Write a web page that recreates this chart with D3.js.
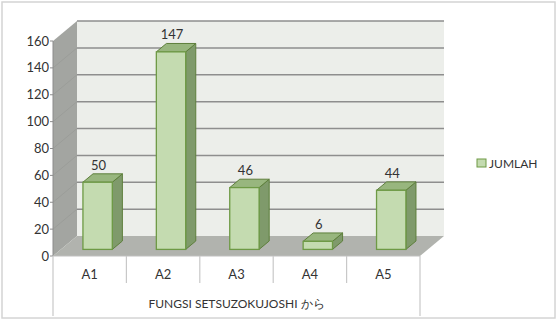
<!DOCTYPE html>
<html>
<head>
<meta charset="utf-8">
<script src="https://cdn.jsdelivr.net/npm/d3@7"></script>
<style>
  body { margin: 0; background: #fff; }
  svg text { font-family: Lato, "Open Sans", sans-serif; }
</style>
</head>
<body>
<div id="chart"></div>
<script>
(function (d3) {
	'use strict';

	// DATA
	const categories = ["A1", "A2", "A3", "A4", "A5"];
	const values = [50, 147, 46, 6, 44];
	const yTicks = [0, 20, 40, 60, 80, 100, 120, 140, 160];
	const seriesName = "JUMLAH";
	const axisTitle = "FUNGSI SETSUZOKUJOSHI から";

	const width = 558, height = 321;
	const svg = d3.select("#chart").append("svg")
		.attr("width", width).attr("height", height);

	// 3D depth offset of the plot box
	const depth = { dx: 24, dy: -20 };
	const barDepth = [0.33, 0.75];

	const x = d3.scaleBand().domain(categories).range([53, 420]);
	const y = d3.scaleLinear().domain([0, 160]).range([256, 41]);

	// frame
	svg.append("rect")
		.attr("x", 2).attr("y", 2).attr("width", 553).attr("height", 316)
		.attr("fill", "#fff").attr("stroke", "#d4d4d4").attr("stroke-width", 1.5);

	const x0 = x.range()[0], x1 = x.range()[1];
	const yb = y(0), yt = y(160);

	// side wall
	svg.append("path")
		.attr("d", `M${x0},${yb}L${x0},${yt}L${x0 + depth.dx},${yt + depth.dy}L${x0 + depth.dx},${yb + depth.dy}Z`)
		.attr("fill", "#a3a5a1");
	// back wall
	svg.append("rect")
		.attr("x", x0 + depth.dx).attr("y", yt + depth.dy)
		.attr("width", x1 - x0).attr("height", yb - yt)
		.attr("fill", "#eceeea");
	// floor
	svg.append("path")
		.attr("d", `M${x0},${yb}L${x0 + depth.dx},${yb + depth.dy}L${x1 + depth.dx},${yb + depth.dy}L${x1},${yb}Z`)
		.attr("fill", "#b1b3ae");

	// gridlines on back wall + side wall
	const grid = svg.append("g");
	grid.selectAll(".back").data(yTicks.filter(d => d > 0)).enter().append("line")
		.attr("x1", x0 + depth.dx).attr("x2", x1 + depth.dx)
		.attr("y1", d => y(d) + depth.dy).attr("y2", d => y(d) + depth.dy)
		.attr("stroke", "#8e8e8e").attr("stroke-width", 1.5);
	grid.selectAll(".side").data(yTicks.filter(d => d > 0 && d < 160)).enter().append("line")
		.attr("x1", x0).attr("x2", x0 + depth.dx)
		.attr("y1", d => y(d)).attr("y2", d => y(d) + depth.dy)
		.attr("stroke", "#9b9d99").attr("stroke-width", 1);

	// y axis
	svg.append("line")
		.attr("x1", x0).attr("x2", x0).attr("y1", yt).attr("y2", yb)
		.attr("stroke", "#8c8c8c");
	const yAxisG = svg.append("g");
	yAxisG.selectAll("line").data(yTicks).enter().append("line")
		.attr("x1", x0 - 3).attr("x2", x0)
		.attr("y1", d => y(d)).attr("y2", d => y(d))
		.attr("stroke", "#8c8c8c");
	yAxisG.selectAll("text").data(yTicks).enter().append("text")
		.attr("x", x0 - 4).attr("y", d => y(d)).attr("dy", "0.35em")
		.attr("text-anchor", "end").attr("font-size", 13).attr("fill", "#333")
		.text(d => d);

	// category axis
	svg.append("line")
		.attr("x1", x0).attr("x2", x1).attr("y1", yb).attr("y2", yb)
		.attr("stroke", "#bfbfbf");
	const bounds = categories.map(c => x(c)).concat([x1]);
	svg.append("g").selectAll("line").data(bounds).enter().append("line")
		.attr("x1", d => d).attr("x2", d => d)
		.attr("y1", yb)
		.attr("y2", (d, i) => (i === 0 || i === bounds.length - 1) ? 316 : 283)
		.attr("stroke", "#c8c8c8").attr("stroke-width", 1.2);
	svg.append("g").selectAll("text").data(categories).enter().append("text")
		.attr("x", d => x(d) + x.bandwidth() / 2).attr("y", 274)
		.attr("dy", "0.35em").attr("text-anchor", "middle")
		.attr("font-size", 13).attr("fill", "#333")
		.text(d => d);
	svg.append("text")
		.attr("x", (x0 + x1) / 2).attr("y", 304).attr("dy", "0.35em")
		.attr("text-anchor", "middle").attr("font-size", 12).attr("fill", "#333")
		.text(axisTitle);

	// bars
	const bw = x.bandwidth() * 0.4;
	const ox = depth.dx * barDepth[0], oy = depth.dy * barDepth[0];
	const ddx = depth.dx * (barDepth[1] - barDepth[0]), ddy = depth.dy * (barDepth[1] - barDepth[0]);
	const bars = svg.append("g").selectAll("g")
		.data(categories.map((c, i) => ({ cat: c, v: values[i] })))
		.enter().append("g");
	bars.each(function (d) {
		const g = d3.select(this);
		const left = x(d.cat) + x.bandwidth() / 2 - bw / 2 + ox;
		const right = left + bw;
		const top = y(d.v) + oy, bottom = y(0) + oy;
		// side
		g.append("path")
			.attr("d", `M${right},${bottom}L${right},${top}L${right + ddx},${top + ddy}L${right + ddx},${bottom + ddy}Z`)
			.attr("fill", "#7f9a6b").attr("stroke", "#5e7f3c").attr("stroke-width", 1);
		// top
		g.append("path")
			.attr("d", `M${left},${top}L${left + ddx},${top + ddy}L${right + ddx},${top + ddy}L${right},${top}Z`)
			.attr("fill", "#98b67e").attr("stroke", "#5e7f3c").attr("stroke-width", 1);
		// front
		g.append("rect")
			.attr("x", left).attr("y", top).attr("width", bw).attr("height", bottom - top)
			.attr("fill", "#c4dbb0").attr("stroke", "#6e9a45").attr("stroke-width", 1.3);
		// value label
		g.append("text")
			.attr("x", left + bw / 2 + 1).attr("y", top + ddy - 4)
			.attr("text-anchor", "middle").attr("font-size", 13).attr("fill", "#333")
			.text(d.v);
	});

	// legend
	const lg = svg.append("g").attr("transform", "translate(477,159)");
	lg.append("rect").attr("width", 9).attr("height", 8)
		.attr("fill", "#c4dbb0").attr("stroke", "#6e9a45");
	lg.append("text").attr("x", 12).attr("y", 4.5).attr("dy", "0.35em")
		.attr("font-size", 12).attr("fill", "#333").text(seriesName);
}(d3));
</script>
</body>
</html>
